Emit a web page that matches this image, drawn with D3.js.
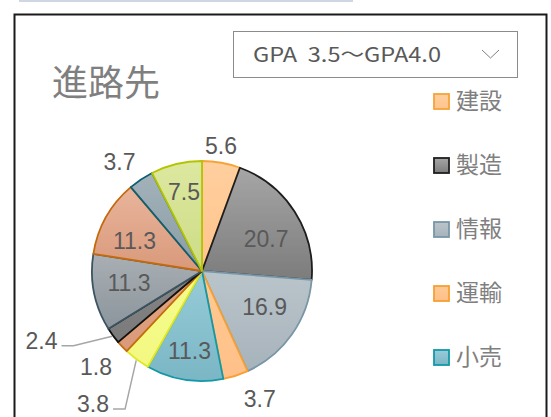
<!DOCTYPE html>
<html>
<head>
<meta charset="utf-8">
<script src="https://cdn.jsdelivr.net/npm/d3@7"></script>
<style>
  body { margin: 0; background: #fff; }
  text { font-family: "Liberation Sans", Arial, sans-serif; }
  .jp { font-family: "Noto Sans CJK JP", "Noto Sans", sans-serif; }
</style>
</head>
<body>
<div id="chart"></div>
<script>
// 進路先 (GPA 3.5〜4.0), percent
var categories = ["建設", "製造", "情報", "運輸", "小売", "卸売", "金融", "不動産", "教育", "医療", "公務", "その他"];
var values     = [5.6, 20.7, 16.9, 3.7, 11.3, 3.8, 1.8, 2.4, 11.3, 11.3, 3.7, 7.5];
var labelMode  = ["out", "in", "in", "out", "in", "lead", "out", "lead", "in", "in", "out", "in"];

// excel-ish gradient fills, top -> bottom
var fillTop    = ["#ffcf9e", "#a6a6a6", "#bac4cb", "#ffc994", "#98ccd8", "#f6fc8e", "#e2a585", "#858585", "#a9afb4", "#e9b59c", "#a3b2ba", "#dde8a0"];
var fillBottom = ["#ffc48c", "#7c7c7c", "#a7b3bb", "#ffc088", "#7ab6c5", "#f2f880", "#da9a7a", "#7a7a7a", "#8b959b", "#d9997b", "#8a9ca6", "#ccdc85"];
var strokes    = ["#f6a33a", "#1e1e1e", "#7896a6", "#f6a033", "#1398a6", "#dfe820", "#c46c10", "#111111", "#3c5462", "#c46a0c", "#0f5f70", "#b5c400"];

var width = 551, height = 417;
var cx = 202, cy = 271, R = 110;

// where the data labels sit (deg clockwise from 12 o'clock, distance from centre),
// the way the sheet has them placed
var labelSpot = [[8.6, 127], [63, 72], [119.6, 72], [155.6, 140], [188.9, 81], [219.3, 172],
                 [227.8, 143], [246.5, 175], [260.7, 74], [294, 74], [323, 137], [347.2, 81.5]];

var svg = d3.select("#chart").append("svg")
    .attr("width", width)
    .attr("height", height);

var defs = svg.append("defs");
values.forEach(function (v, i) {
  var g = defs.append("linearGradient")
      .attr("id", "grad" + i)
      .attr("x1", 0).attr("y1", 0).attr("x2", 0).attr("y2", 1);
  g.append("stop").attr("offset", "0%").attr("stop-color", fillTop[i]);
  g.append("stop").attr("offset", "100%").attr("stop-color", fillBottom[i]);
});

// thin strip at the top (part of the sheet above)
svg.append("rect")
   .attr("x", 19).attr("y", 0)
   .attr("width", 334).attr("height", 2)
   .attr("fill", "#cfd6e4");

// chart frame
svg.append("rect")
   .attr("x", 14.5).attr("y", 14.5)
   .attr("width", 532).attr("height", 430)
   .attr("fill", "#fff")
   .attr("stroke", "#1a1a1a")
   .attr("stroke-width", 2);

svg.append("text")
   .classed("jp", true)
   .attr("x", 52).attr("y", 96)
   .style("font-size", "36px")
   .style("fill", "#7f7f7f")
   .text("進路先");

// slicer-like dropdown
svg.append("rect")
   .attr("x", 233.5).attr("y", 31.5)
   .attr("width", 284).attr("height", 46)
   .attr("fill", "#fff")
   .attr("stroke", "#8c8c8c")
   .attr("stroke-width", 1);

svg.append("text")
   .classed("jp", true)
   .attr("x", 253).attr("y", 62)
   .attr("textLength", 188)
   .attr("lengthAdjust", "spacingAndGlyphs")
   .style("font-size", "20px")
   .style("fill", "#595959")
   .attr("xml:space", "preserve")
   .text("GPA  3.5～GPA4.0");

svg.append("path")
   .attr("d", "M482,50 L490.5,58 L499,50")
   .attr("fill", "none")
   .attr("stroke", "#7f7f7f")
   .attr("stroke-width", 1);

// pie
var pie = d3.pie().sort(null).value(function (d) { return d; });
var arcs = pie(values);

var arc = d3.arc().innerRadius(0).outerRadius(R);
var edgeArc = d3.arc().innerRadius(R + 1).outerRadius(R + 1);

var g = svg.append("g").attr("transform", "translate(" + cx + "," + cy + ")");

g.selectAll(".slice")
  .data(arcs)
  .enter()
    .append("path")
      .classed("slice", true)
      .attr("d", arc)
      .attr("fill", function (d, i) { return "url(#grad" + i + ")"; })
      .attr("stroke", function (d, i) { return strokes[i]; })
      .attr("stroke-width", 1.8)
      .attr("stroke-linejoin", "round");

var fs = 23;
arcs.forEach(function (d, i) {
  var a = labelSpot[i][0] * Math.PI / 180, r = labelSpot[i][1];
  var p = [r * Math.sin(a), -r * Math.cos(a)];
  var t = g.append("text")
     .attr("x", p[0]).attr("y", p[1] + fs * 0.36)
     .attr("text-anchor", "middle")
     .style("font-size", fs + "px")
     .style("fill", "#595959")
     .text(values[i].toFixed(1));

  if (labelMode[i] === "lead") {
    var w = t.node().getComputedTextLength();
    var x0 = p[0] + w / 2 + 4, y0 = p[1] + 5;
    var e = edgeArc.centroid(d);
    g.append("path")
     .attr("d", "M" + x0 + "," + y0 + " L" + (x0 + 12) + "," + y0 + " L" + e[0] + "," + e[1])
     .attr("fill", "none")
     .attr("stroke", "#a6a6a6")
     .attr("stroke-width", 1.5);
  }
});

// legend: the box only has room for the first few entries
var legendTop = 94, legendStep = 64, legendBottom = 390;
var shown = categories.filter(function (d, i) { return legendTop + i * legendStep + 15 <= legendBottom; });

var legend = svg.selectAll(".legend")
  .data(shown)
  .enter()
    .append("g")
      .classed("legend", true)
      .attr("transform", function (d, i) { return "translate(434," + (legendTop + i * legendStep) + ")"; });

legend.append("rect")
  .attr("width", 15).attr("height", 15)
  .attr("fill", function (d, i) { return "url(#grad" + i + ")"; })
  .attr("stroke", function (d, i) { return strokes[i]; })
  .attr("stroke-width", 1.8);

legend.append("text")
  .classed("jp", true)
  .attr("x", 22).attr("y", 15)
  .style("font-size", "23px")
  .style("fill", "#7f7f7f")
  .text(function (d) { return d; });
</script>
</body>
</html>
